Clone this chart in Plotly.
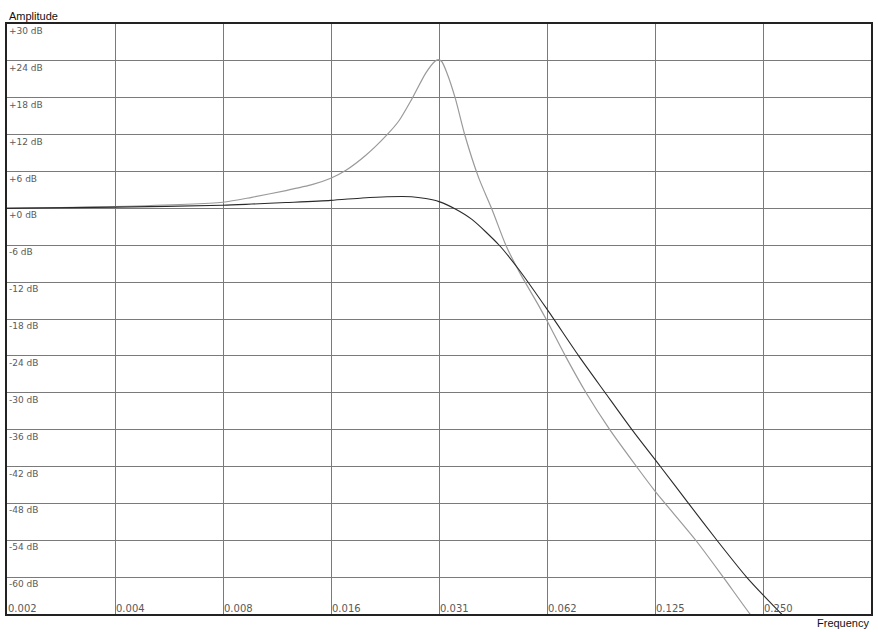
import math
import plotly.graph_objects as go

# frequency response readings (normalised frequency, dB)
dark_freq = [0.00195, 0.0039, 0.0078, 0.0094, 0.0117, 0.0156, 0.0191, 0.0224, 0.0262,
             0.0287, 0.03125, 0.0347, 0.0386, 0.046, 0.0521, 0.0625, 0.0766,
             0.0908, 0.1078, 0.1294, 0.155, 0.186, 0.225, 0.25, 0.2816, 0.30]
dark_db = [0.0, 0.2, 0.5, 0.7, 0.95, 1.3, 1.7, 1.9, 1.9,
           1.6, 1.1, -0.1, -1.8, -6.0, -9.9, -16.4, -24.0,
           -30.0, -36.0, -42.0, -48.0, -54.0, -60.0, -62.9, -66.0, -67.5]

light_freq = [0.00195, 0.0039, 0.0078, 0.0094, 0.0117, 0.0139, 0.0156, 0.0172, 0.0195,
              0.0224, 0.0242, 0.0262, 0.0287, 0.0304, 0.0311, 0.0318, 0.0329, 0.0347,
              0.0369, 0.0403, 0.044, 0.048, 0.0525, 0.0591, 0.0625, 0.0703, 0.0803,
              0.0935, 0.111, 0.125, 0.1624, 0.1937, 0.23, 0.25]
light_db = [0.05, 0.3, 1.0, 1.8, 2.9, 3.9, 4.9, 6.2, 8.6,
            12.0, 14.3, 17.7, 22.0, 23.9, 24.2, 23.9, 22.0, 17.9,
            11.9, 5.0, -0.3, -6.0, -10.5, -15.7, -18.3, -24.0, -30.0,
            -36.0, -42.0, -46.0, -54.0, -60.0, -66.0, -68.5]

x_ticks = [0.001953125, 0.00390625, 0.0078125, 0.015625, 0.03125, 0.0625, 0.125, 0.25]
x_labels = ["0.002", "0.004", "0.008", "0.016", "0.031", "0.062", "0.125", "0.250"]
y_ticks = [30, 24, 18, 12, 6, 0, -6, -12, -18, -24, -30, -36, -42, -48, -54, -60]
y_labels = ["+30 dB", "+24 dB", "+18 dB", "+12 dB", "+6 dB", "+0 dB", "-6 dB", "-12 dB",
            "-18 dB", "-24 dB", "-30 dB", "-36 dB", "-42 dB", "-48 dB", "-54 dB", "-60 dB"]

tick_font = "DejaVu Sans, sans-serif"
title_font = "Liberation Sans, Arial, sans-serif"

fig = go.Figure()
fig.add_trace(go.Scatter(x=light_freq, y=light_db, mode="lines",
                         line=dict(color="#9a9a9a", width=1.2, shape="spline", smoothing=0.7),
                         hoverinfo="skip"))
fig.add_trace(go.Scatter(x=dark_freq, y=dark_db, mode="lines",
                         line=dict(color="#2a2a2a", width=1.1, shape="spline", smoothing=0.7),
                         hoverinfo="skip"))

annotations = []
for v, t in zip(y_ticks, y_labels):
    annotations.append(dict(x=0, xref="paper", y=v, yref="y", text=t, showarrow=False,
                            xanchor="left", yanchor="top", xshift=0, yshift=0,
                            font=dict(size=9, color="#5a5a5a", family=tick_font)))
for v, t in zip(x_ticks, x_labels):
    annotations.append(dict(x=math.log10(v), xref="x", y=0, yref="paper", text=t,
                            showarrow=False, xanchor="left", yanchor="bottom",
                            xshift=-1, yshift=-2,
                            font=dict(size=10, color="#5a5a5a", family=tick_font)))
annotations.append(dict(x=0, xref="paper", y=1, yref="paper", text="Amplitude",
                        showarrow=False, xanchor="left", yanchor="bottom", yshift=0,
                        font=dict(size=11, color="#111111", family=title_font)))
annotations.append(dict(x=1, xref="paper", y=0, yref="paper", text="Frequency",
                        showarrow=False, xanchor="right", yanchor="top", yshift=-1,
                        font=dict(size=11, color="#111111", family=title_font)))

fig.update_layout(
    width=878, height=632,
    margin=dict(l=7, r=5, t=24, b=18),
    paper_bgcolor="white", plot_bgcolor="white",
    showlegend=False,
    annotations=annotations,
    xaxis=dict(type="log", range=[math.log10(0.001953125), math.log10(0.5)],
               tickvals=x_ticks, showticklabels=False, ticks="",
               showgrid=True, gridcolor="#7a7a7a", gridwidth=1,
               showline=True, linecolor="#222222", linewidth=1.5, mirror=True,
               zeroline=False),
    yaxis=dict(range=[-66, 30], tickvals=y_ticks, showticklabels=False, ticks="",
               showgrid=True, gridcolor="#7a7a7a", gridwidth=1,
               showline=True, linecolor="#222222", linewidth=1.5, mirror=True,
               zeroline=False),
)

# drop the page's default body margin so the figure sits at the window corner
fig.write_html("out.html", config={"displayModeBar": False},
               post_script="document.body.style.margin='0';")
